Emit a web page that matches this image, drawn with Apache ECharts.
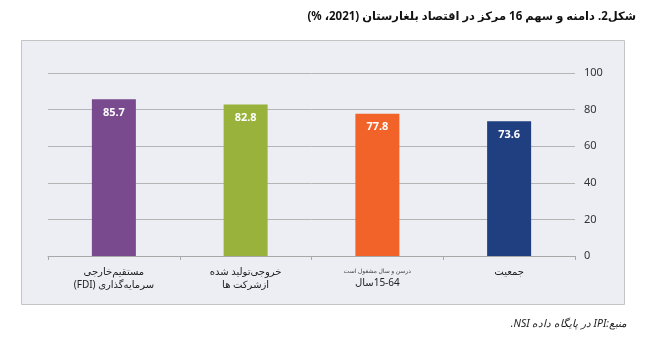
<!DOCTYPE html>
<html>
<head>
<meta charset="utf-8">
<script src="https://cdn.jsdelivr.net/npm/echarts@6/dist/echarts.min.js"></script>
<style>
  html, body { margin: 0; padding: 0; background: #ffffff; }
  #chart { width: 656px; height: 339px; }
</style>
</head>
<body>
<div id="chart" dir="rtl"></div>
<script>
// Categories (left to right) and their values
const categories = ['fdi', 'output', 'employed', 'population'];
const values = [85.7, 82.8, 77.8, 73.6];
const barColors = ['#7a4a8f', '#98b23b', '#f26329', '#1f3f80'];
const yTicks = [0, 20, 40, 60, 80, 100];

const titleText = 'شکل2. دامنه و سهم 16 مرکز در اقتصاد بلغارستان (2021، %)';
const sourceText = 'منبع:IPI در پایگاه داده NSI.';

// Two-line category captions (rich text keys: s = small note line, n = normal)
const categoryLabels = {
  fdi: '{n|مستقیم‌خارجی}\n{n|سرمایه‌گذاری (FDI)}',
  output: '{n|خروجی‌تولید شده}\n{n|ازشرکت ها}',
  employed: '{s|درسن و سال مشغول است}\n{n|15-64سال}',
  population: '{n|جمعیت}'
};

const FONT = '"Noto Sans", "DejaVu Sans", sans-serif';

const chart = echarts.init(document.getElementById('chart'), null, { renderer: 'canvas' });

chart.setOption({
  backgroundColor: '#ffffff',
  animation: false,
  graphic: [
    {
      type: 'rect',
      z: -10,
      shape: { x: 21.5, y: 40.5, width: 603, height: 264 },
      style: { fill: '#eceef4', stroke: '#c4c4c4', lineWidth: 1 }
    },
    {
      type: 'text',
      right: 20,
      top: 11,
      style: {
        text: titleText,
        font: 'bold 11.5px ' + FONT,
        fill: '#111111'
      }
    },
    {
      type: 'text',
      right: 29,
      top: 319,
      style: {
        text: sourceText,
        font: 'italic 10.5px ' + FONT,
        fill: '#222222'
      }
    }
  ],
  grid: { left: 48, right: 81, top: 73, bottom: 83 },
  xAxis: {
    type: 'category',
    data: categories,
    axisLine: { lineStyle: { color: '#a8a8a8', width: 1 } },
    axisTick: { show: true, length: 4, lineStyle: { color: '#a8a8a8' } },
    axisLabel: {
      margin: 10,
      interval: 0,
      color: '#222222',
      lineHeight: 12,
      formatter: v => categoryLabels[v],
      rich: {
        n: { fontSize: 10, fontFamily: FONT, color: '#222222', lineHeight: 13 },
        s: { fontSize: 6, fontFamily: FONT, color: '#444444', lineHeight: 11 }
      }
    }
  },
  yAxis: {
    type: 'value',
    position: 'right',
    min: 0,
    max: 100,
    interval: 20,
    axisLine: { show: false },
    axisTick: { show: false },
    axisLabel: {
      margin: 9,
      color: '#333333',
      fontSize: 11,
      fontFamily: FONT,
      formatter: v => (yTicks.includes(v) ? String(v) : '')
    },
    splitLine: { lineStyle: { color: '#b5b5b5', width: 1 } }
  },
  series: [
    {
      type: 'bar',
      barWidth: 44,
      data: values.map((v, i) => ({ value: v, itemStyle: { color: barColors[i] } })),
      label: {
        show: true,
        position: 'insideTop',
        distance: 8,
        color: '#ffffff',
        fontWeight: 'bold',
        fontSize: 11,
        fontFamily: FONT,
        formatter: p => p.value.toFixed(1)
      }
    }
  ]
});
</script>
</body>
</html>
